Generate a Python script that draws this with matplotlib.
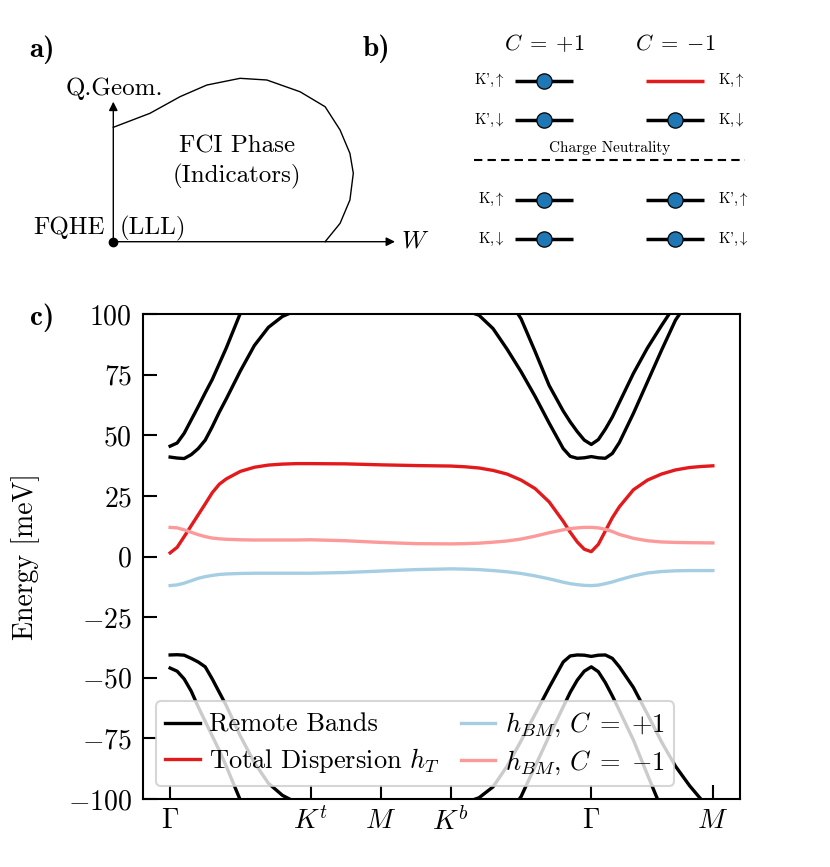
import numpy as np
import matplotlib
matplotlib.use("Agg")
import matplotlib.pyplot as plt

plt.rcParams.update({
    "font.family": "serif",
    "font.serif": ["cmr10"],
    "mathtext.fontset": "cm",
    "axes.formatter.use_mathtext": True,
    "axes.unicode_minus": True,
})

# ---------------- data: band structure along Γ-K^t-M-K^b-Γ-M ----------------
k_path = [0, 0.05, 0.1, 0.15, 0.2, 0.25, 0.3, 0.35, 0.4, 0.5, 0.6, 0.7, 0.8, 0.9,
          1.0, 1.25, 1.5, 1.75, 2.0, 2.1, 2.2, 2.3, 2.4, 2.5, 2.6, 2.7, 2.8, 2.85,
          2.9, 2.95, 3.0, 3.05, 3.1, 3.15, 3.2, 3.3, 3.4, 3.5, 3.6, 3.7, 3.78, 3.866]

remote_up_1 = [45.5, 46.8, 50.8, 56.3, 61.8, 67.5, 73, 79.5, 86, 100.3, 112, 122, 130, 135,
               137, 135, 133, 132, 130, 126, 120, 114, 107, 98, 84.5, 70.5, 60, 55.5,
               51.5, 48, 46.2, 48.2, 52.5, 57.5, 63.5, 75.5, 86, 95.2, 104, 112, 118, 124]
remote_up_2 = [41, 40.6, 40.4, 42, 44.5, 48, 53.5, 59.5, 65, 76.5, 87, 94.5, 99, 101.5,
               102.5, 103.5, 104, 103.5, 102.5, 101.5, 99.5, 94, 85.5, 76.2, 66, 55, 44.5, 41.3,
               40.5, 40.7, 41.2, 40.7, 40.5, 42.5, 47, 59, 72, 85, 97.5, 106, 112, 118]
remote_dn_1 = [-46, -47.3, -50.5, -55.5, -62, -68, -74, -80, -86.5, -100.5, -112, -122, -130, -135,
               -137, -135, -133, -132, -130, -126, -120, -114, -107, -99, -86.5, -74, -62, -56,
               -51, -47.3, -45.5, -47.5, -52, -57.5, -63.5, -75.7, -90, -104, -116, -126, -133, -140]
remote_dn_2 = [-40.6, -40.5, -40.7, -42, -43.5, -45.5, -50.5, -56, -61.5, -74, -85, -93.5, -98.5, -101.5,
               -102.5, -103.5, -104, -103.5, -102.5, -101.5, -99.5, -95, -86.5, -76, -65, -54, -43.5, -41,
               -40.6, -40.7, -41.2, -40.7, -40.6, -42, -45.5, -54, -65, -76.4, -86.5, -94.5, -100, -106]
total_disp = [1.5, 3.8, 8.2, 12.7, 17.2, 21.7, 26.3, 29.8, 32, 35.1, 36.8, 37.7, 38.1, 38.3,
              38.3, 38.2, 37.8, 37.5, 37.3, 37.0, 36.5, 35.5, 34, 31.5, 28, 22.5, 14.5, 10,
              6, 3, 2, 5, 10.5, 16, 20.5, 27.5, 31.5, 34, 35.7, 36.7, 37.1, 37.4]
hbm_plus = [-12, -11.7, -11, -10, -9, -8.3, -7.8, -7.4, -7.2, -7.0, -6.9, -6.9, -6.9, -6.9,
            -6.9, -6.6, -6.0, -5.4, -5.1, -5.2, -5.4, -5.8, -6.3, -7.0, -8.0, -9.2, -10.6, -11.2,
            -11.6, -11.9, -12, -11.8, -11.2, -10.5, -9.6, -8.0, -6.8, -6.2, -5.9, -5.8, -5.8, -5.8]
hbm_minus = [12, 11.8, 11, 10, 9, 8.2, 7.6, 7.3, 7.1, 6.9, 6.8, 6.8, 6.8, 6.8,
             6.9, 6.5, 5.8, 5.3, 5.2, 5.3, 5.5, 5.9, 6.4, 7.2, 8.4, 9.8, 11, 11.5,
             11.8, 12, 12, 11.8, 11.2, 10.3, 9.1, 7.5, 6.5, 6.0, 5.8, 5.7, 5.65, 5.6]

hs_positions = [0, 1, 1.5, 2, 3, 3.866]
hs_labels = [r"$\Gamma$", r"$K^t$", r"$M$", r"$K^b$", r"$\Gamma$", r"$M$"]
y_ticks = [-100, -75, -50, -25, 0, 25, 50, 75, 100]

# ---------------- data: panel a (phase sketch boundary) ----------------
boundary_u = [0, 0.130, 0.237, 0.332, 0.450, 0.545, 0.663, 0.752, 0.805, 0.840, 0.852, 0.840, 0.805, 0.752]
boundary_v = [0.817, 0.917, 1.036, 1.119, 1.167, 1.155, 1.071, 0.964, 0.798, 0.631, 0.489, 0.298, 0.131, 0.0]

# ---------------- data: panel b (level occupation) ----------------
chern_headers = [r"$C\;=\;{+1}$", r"$C\;=\;{-1}$"]
left_labels = [r"K',$\uparrow$", r"K',$\downarrow$", r"K,$\uparrow$", r"K,$\downarrow$"]
right_labels = [r"K,$\uparrow$", r"K,$\downarrow$", r"K',$\uparrow$", r"K',$\downarrow$"]
left_filled = [True, True, True, True]
right_filled = [False, True, True, True]
level_rows = [2, 1, -1, -2]

BLACK = "black"
RED = "#e31a1c"
LBLUE = "#a6cee3"
PINK = "#fb9a99"
DOT = "#1f78b4"

W, H = 830, 867
fig = plt.figure(figsize=(W / 100, H / 100), dpi=100)

# ================= panel c =================
ax = fig.add_axes([143 / W, 1 - 799 / H, 597 / W, 485 / H])
lw = 2.4
ax.plot(k_path, remote_up_1, color=BLACK, lw=lw, label="Remote Bands")
ax.plot(k_path, remote_up_2, color=BLACK, lw=lw)
ax.plot(k_path, remote_dn_1, color=BLACK, lw=lw)
ax.plot(k_path, remote_dn_2, color=BLACK, lw=lw)
ax.plot(k_path, total_disp, color=RED, lw=lw, label=r"Total Dispersion $h_T$")
ax.plot(k_path, hbm_plus, color=LBLUE, lw=lw, label=r"$h_{BM}$, $C\;=\;{+1}$")
ax.plot(k_path, hbm_minus, color=PINK, lw=lw, label=r"$h_{BM}$, $C\;=\;{-1}$")
ax.set_ylim(-100, 100)
ax.set_xticks(hs_positions)
ax.set_xticklabels(hs_labels)
ax.set_yticks(y_ticks)
ax.tick_params(direction="in", length=10, width=1.5, labelsize=20)
ax.tick_params(axis="y", pad=8)
ax.tick_params(axis="x", pad=6)
for s in ax.spines.values():
    s.set_linewidth(1.5)
ax.set_ylabel("Energy [meV]", fontsize=20)
ax.yaxis.set_label_coords(-0.172, 0.5)
leg = ax.legend(loc="lower left", ncol=2, fontsize=19, handlelength=1.3,
                columnspacing=0.8, handletextpad=0.35, borderpad=0.35, labelspacing=0.35)
leg.get_frame().set_linewidth(1.5)

# ================= panel a =================
axa = fig.add_axes([113.3 / W, 1 - 241.7 / H, 281.7 / W, 140 / H])
axa.set_xlim(0, 1)
axa.set_ylim(0, 1)
axa.axis("off")
arrow_kw = dict(arrowstyle="-|>", lw=1.0, color="k", mutation_scale=13, shrinkA=0, shrinkB=0)
axa.annotate("", xy=(1, 0), xytext=(0, 0), arrowprops=arrow_kw, annotation_clip=False)
axa.annotate("", xy=(0, 1), xytext=(0, 0), arrowprops=arrow_kw, annotation_clip=False)
axa.plot(boundary_u, boundary_v, color="k", lw=1.0, clip_on=False)
axa.plot([0], [0], "o", color="k", ms=6, clip_on=False)
fs_a = 18
axa.text(-0.171, 1.096, "Q.Geom.", ha="left", va="center", fontsize=fs_a)
axa.text(0.438, 0.678, "FCI Phase", ha="center", va="center", fontsize=fs_a)
axa.text(0.438, 0.464, "(Indicators)", ha="center", va="center", fontsize=fs_a)
axa.text(-0.029, 0.098, "FQHE", ha="right", va="center", fontsize=fs_a)
axa.text(0.024, 0.098, "(LLL)", ha="left", va="center", fontsize=fs_a)
axa.text(1.02, 0.0, r"$W$", ha="left", va="center", fontsize=fs_a)

# ================= panel b =================
px_unit = 130.7
py_unit = 39.65
x0px, y0px = 544.3, 160.0
left_px, right_px, top_px, bot_px = 470, 750, 25, 255
axb = fig.add_axes([left_px / W, 1 - bot_px / H, (right_px - left_px) / W, (bot_px - top_px) / H])
axb.set_xlim((left_px - x0px) / px_unit, (right_px - x0px) / px_unit)
axb.set_ylim(-(bot_px - y0px) / py_unit, (y0px - top_px) / py_unit)
axb.axis("off")
half = 0.222
for col, (labels, filled) in enumerate([(left_labels, left_filled), (right_labels, right_filled)]):
    for row, lab, f in zip(level_rows, labels, filled):
        color = BLACK if f else RED
        axb.plot([col - half, col + half], [row, row], color=color, lw=2.5, solid_capstyle="butt")
        if f:
            axb.plot([col], [row], "o", ms=11, mfc=DOT, mec="k", mew=0.9)
        if col == 0:
            axb.text(-0.30, row, lab, ha="right", va="center", fontsize=10.5)
        else:
            axb.text(1.33, row, lab, ha="left", va="center", fontsize=10.5)
    axb.text(col, 2.94, chern_headers[col], ha="center", va="center", fontsize=16)
axb.plot([(474 - x0px) / px_unit, (745 - x0px) / px_unit], [0, 0], color="k", lw=1.5,
         linestyle=(0, (4, 2.5)))
axb.text(0.50, 0.30, "Charge Neutrality", ha="center", va="center", fontsize=11)

# ================= panel labels =================
fig.text(41.7 / W, 1 - 50 / H, "a)", fontfamily="cmb10", fontsize=21, ha="center", va="center")
fig.text(376 / W, 1 - 49 / H, "b)", fontfamily="cmb10", fontsize=21, ha="center", va="center")
fig.text(42 / W, 1 - 318 / H, "c)", fontfamily="cmb10", fontsize=21, ha="center", va="center")

fig.savefig("out.png", dpi=100)
